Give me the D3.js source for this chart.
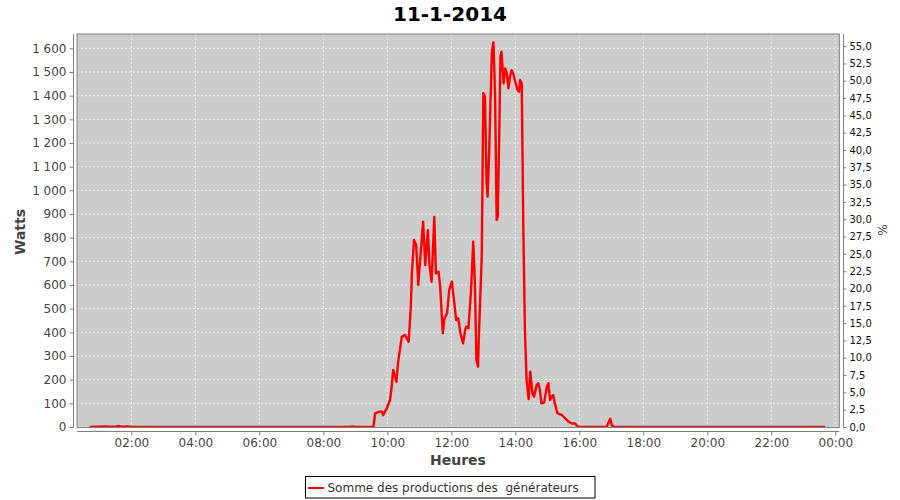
<!DOCTYPE html>
<html><head><meta charset="utf-8">
<script src="https://cdn.jsdelivr.net/npm/d3@7"></script>
<style>body{margin:0;background:#fff}text{font-family:"DejaVu Sans",sans-serif}</style>
</head><body>
<svg id="c" width="900" height="500"></svg>
<script>
const title = "11-1-2014";
const seriesName = "Somme des productions des  générateurs";
const times = ["00:42","01:10","01:30","01:35","01:45","01:50","02:00","02:30","03:00","03:30","04:00","04:30","05:00","05:30","06:00","06:30","07:00","07:30","08:00","08:30","08:50","08:55","09:00","09:30","09:34","09:37","09:45","09:50","09:52","09:59","10:05","10:08","10:11","10:17","10:20","10:27","10:33","10:40","10:44","10:46","10:50","10:54","10:58","11:01","11:07","11:11","11:16","11:19","11:23","11:28","11:31","11:36","11:39","11:44","11:47","11:52","11:56","12:01","12:05","12:09","12:13","12:17","12:22","12:26","12:28","12:32","12:37","12:41","12:44","12:47","12:50","12:52","12:57","13:00","13:03","13:06","13:08","13:11","13:16","13:19","13:22","13:25","13:27","13:30","13:32","13:34","13:38","13:41","13:44","13:47","13:50","13:53","13:56","13:59","14:04","14:07","14:09","14:12","14:15","14:18","14:21","14:25","14:28","14:32","14:35","14:40","14:43","14:46","14:49","14:54","14:59","15:02","15:05","15:08","15:11","15:14","15:19","15:27","15:33","15:40","15:46","15:52","15:56","16:00","16:51","16:58","17:01","17:05","18:00","19:00","20:00","21:00","22:00","23:00","23:41"];
const watts = [0,2,0,4,0,3,0,0,0,0,0,0,0,0,0,0,0,0,0,0,0,3,0,0,0,58,65,65,50,79,114,170,241,191,270,381,389,360,508,649,790,769,600,692,867,684,832,684,614,888,649,656,593,396,459,480,579,614,536,452,459,396,354,410,424,417,579,783,621,283,255,410,720,1410,1396,1031,973,1170,1586,1625,1396,875,888,1255,1564,1586,1452,1515,1494,1431,1480,1508,1494,1466,1424,1417,1466,1452,832,410,200,118,234,142,128,177,185,156,100,103,170,185,114,128,135,100,58,51,37,22,15,15,4,0,0,35,8,0,0,0,0,0,0,0,0];
const xTicks = ["02:00","04:00","06:00","08:00","10:00","12:00","14:00","16:00","18:00","20:00","22:00","00:00"];
const wattTicks = [0,100,200,300,400,500,600,700,800,900,1000,1100,1200,1300,1400,1500,1600];
const pctTicks = [0,2.5,5,7.5,10,12.5,15,17.5,20,22.5,25,27.5,30,32.5,35,37.5,40,42.5,45,47.5,50,52.5,55];

const toMin = s => { const [h,m] = s.split(":").map(Number); return h*60+m; };
const tickMin = s => { const v = toMin(s); return v === 0 ? 1440 : v; };
const data = times.map((t,i) => ({t: toMin(t), w: watts[i]}));

const svg = d3.select("#c");
const L = 77, R = 839.3, T = 34, B = 427.5;
const x = d3.scaleLinear().domain([18, 1447.5]).range([L, R]);
const y = d3.scaleLinear().domain([0, 1660.6]).range([427, T]);
const yp = d3.scaleLinear().domain([0, 56.75]).range([427, T]);
const fr = d3.formatLocale({decimal: ",", thousands: "\u2009", grouping: [3], currency: ["", ""]});
const fmtW = d => fr.format(",")(d).replace("\u2009", " ");
const fmtP = fr.format(".1f");

svg.append("text").attr("x", 450).attr("y", 21).attr("text-anchor", "middle")
  .attr("font-size", 20).attr("font-weight", "bold").attr("fill", "#000").text(title);

svg.append("rect").attr("x", L).attr("y", T).attr("width", R-L).attr("height", B-T)
  .attr("fill", "#cccccc");

const grid = svg.append("g").attr("stroke", "#fff").attr("stroke-width", 0.6).attr("stroke-dasharray", "2,2");
grid.selectAll(".h").data(wattTicks).join("line")
  .attr("x1", L).attr("x2", R).attr("y1", d => y(d)).attr("y2", d => y(d));
grid.selectAll(".v").data(xTicks).join("line")
  .attr("x1", d => x(tickMin(d))).attr("x2", d => x(tickMin(d))).attr("y1", T).attr("y2", B);

svg.append("defs").append("clipPath").attr("id", "pc").append("rect")
  .attr("x", L).attr("y", T).attr("width", R-L).attr("height", B-T);

svg.append("path").datum(data).attr("clip-path", "url(#pc)")
  .attr("fill", "none").attr("stroke", "#ff0000").attr("stroke-width", 2.4).attr("stroke-linejoin", "round")
  .attr("d", d3.line().x(d => x(d.t)).y(d => y(d.w)));

svg.append("rect").attr("x", L).attr("y", T).attr("width", R-L).attr("height", B-T)
  .attr("fill", "none").attr("stroke", "#808080").attr("stroke-width", 1);

// left axis
const ga = svg.append("g").attr("transform", "translate(73.5,0)")
  .call(d3.axisLeft(y).tickValues(wattTicks).tickFormat(fmtW).tickSize(4).tickPadding(3));
ga.select(".domain").attr("stroke", "#808080").attr("d", `M0,${T}V${B}`);
ga.selectAll(".tick line").attr("stroke", "#808080");
ga.selectAll(".tick text").attr("font-size", 12).attr("fill", "#444").attr("font-family", "DejaVu Sans");

// bottom axis
const gb = svg.append("g").attr("transform", "translate(0,431.5)")
  .call(d3.axisBottom(x).tickValues(xTicks.map(tickMin)).tickFormat((d,i) => xTicks[i]).tickSize(4).tickPadding(3));
gb.select(".domain").attr("stroke", "#808080").attr("d", `M${L},0H${R}`);
gb.selectAll(".tick line").attr("stroke", "#808080");
gb.selectAll(".tick text").attr("font-size", 12).attr("fill", "#444").attr("font-family", "DejaVu Sans");

// right axis
const gr = svg.append("g").attr("transform", "translate(843.5,0)")
  .call(d3.axisRight(yp).tickValues(pctTicks).tickFormat(fmtP).tickSize(3).tickPadding(3));
gr.select(".domain").attr("stroke", "#808080").attr("d", `M0,${T}V${B}`);
gr.selectAll(".tick line").attr("stroke", "#808080");
gr.selectAll(".tick text").attr("font-size", 10).attr("fill", "#111").attr("font-family", "DejaVu Sans");

svg.append("text").attr("transform", "translate(25,232) rotate(-90)").attr("text-anchor", "middle")
  .attr("font-size", 14).attr("font-weight", "bold").attr("fill", "#444").text("Watts");
svg.append("text").attr("transform", "translate(887,230) rotate(-90)").attr("text-anchor", "middle")
  .attr("font-size", 12).attr("fill", "#444").text("%");
svg.append("text").attr("x", 458).attr("y", 465).attr("text-anchor", "middle")
  .attr("font-size", 14).attr("font-weight", "bold").attr("fill", "#444").text("Heures");

// legend
const lg = svg.append("g");
lg.append("rect").attr("x", 305.5).attr("y", 476.5).attr("width", 289.5).attr("height", 21.5)
  .attr("fill", "#fff").attr("stroke", "#000");
lg.append("line").attr("x1", 308).attr("x2", 324).attr("y1", 488).attr("y2", 488)
  .attr("stroke", "#ff0000").attr("stroke-width", 2);
lg.append("text").attr("x", 327.5).attr("y", 492).attr("font-size", 12).attr("fill", "#333")
  .attr("xml:space", "preserve").style("white-space", "pre").text(seriesName);
</script>
</body></html>
